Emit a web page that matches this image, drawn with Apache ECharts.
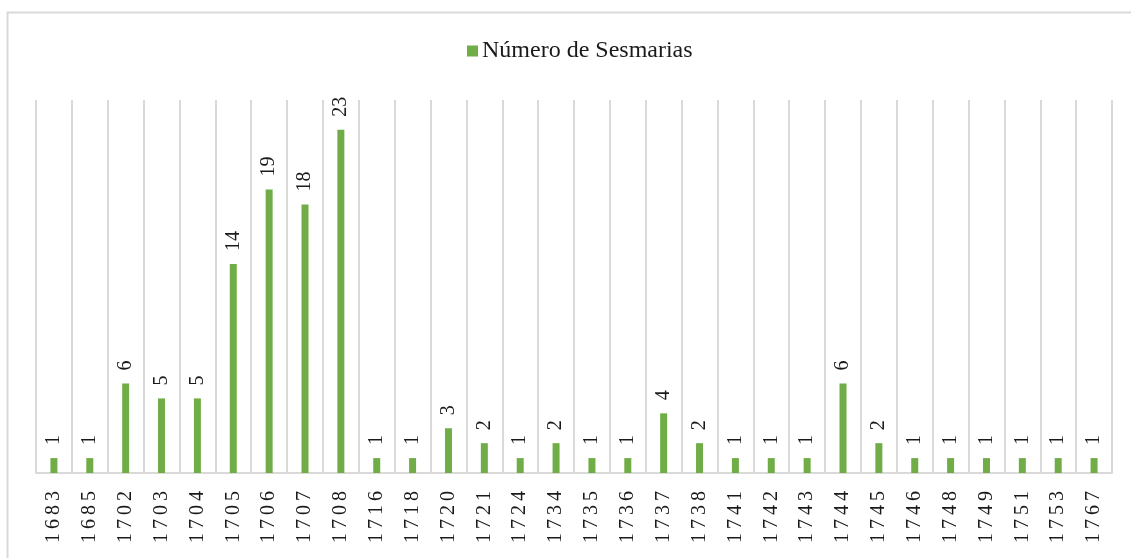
<!DOCTYPE html>
<html>
<head>
<meta charset="utf-8">
<script src="https://cdn.jsdelivr.net/npm/echarts@6/dist/echarts.min.js"></script>
<style>
  html, body { margin: 0; padding: 0; background: #fff; }
  #chart { width: 1131px; height: 558px; }
</style>
</head>
<body>
<div id="chart"></div>
<script>
// anos e número de sesmarias
const years = ['1683', '1685', '1702', '1703', '1704', '1705', '1706', '1707', '1708', '1716',
  '1718', '1720', '1721', '1724', '1734', '1735', '1736', '1737', '1738', '1741',
  '1742', '1743', '1744', '1745', '1746', '1748', '1749', '1751', '1753', '1767'];
const sesmarias = [1, 1, 6, 5, 5, 14, 19, 18, 23, 1,
  1, 3, 2, 1, 2, 1, 1, 4, 2, 1,
  1, 1, 6, 2, 1, 1, 1, 1, 1, 1];
const seriesName = 'Número de Sesmarias';

const fontFamily = '"Liberation Serif", "Times New Roman", serif';
const chart = echarts.init(document.getElementById('chart'));

const option = {
  animation: false,
  textStyle: { fontFamily: fontFamily },
  graphic: [
    {
      type: 'rect',
      shape: { x: 7.5, y: 12.5, width: 1140, height: 560 },
      style: { fill: 'none', stroke: '#d9d9d9', lineWidth: 2 },
      silent: true
    }
  ],
  legend: {
    top: 34,
    left: 462,
    icon: 'rect',
    itemWidth: 11,
    itemHeight: 11,
    itemGap: 4,
    textStyle: { fontFamily: fontFamily, fontSize: 24, color: '#1a1a1a', padding: [0, 0, 0, -1] },
    data: [seriesName]
  },
  grid: { left: 36, right: 19, top: 100, bottom: 85 },
  xAxis: {
    type: 'category',
    data: years,
    boundaryGap: true,
    axisLine: { lineStyle: { color: '#d9d9d9', width: 2 } },
    axisTick: { show: false },
    splitLine: { show: true, lineStyle: { color: '#d9d9d9', width: 2 } },
    axisLabel: {
      interval: 0,
      rotate: 90,
      margin: 18,
      fontSize: 20,
      color: '#1a1a1a',
      fontFamily: fontFamily,
      formatter: (v) => v.split('').join('\u2009')
    }
  },
  yAxis: {
    type: 'value',
    min: 0,
    max: 25,
    show: false,
    splitLine: { show: false }
  },
  series: [
    {
      name: seriesName,
      type: 'bar',
      data: sesmarias,
      barWidth: 7,
      itemStyle: { color: '#70ad47' },
      label: {
        show: true,
        position: 'top',
        rotate: 90,
        align: 'left',
        verticalAlign: 'middle',
        distance: 13,
        fontSize: 20,
        color: '#1a1a1a',
        fontFamily: fontFamily
      }
    }
  ]
};

chart.setOption(option);
</script>
</body>
</html>
